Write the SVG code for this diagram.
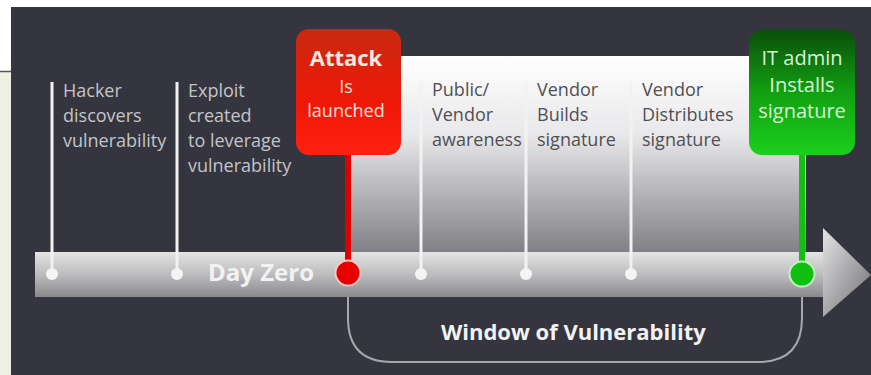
<svg xmlns="http://www.w3.org/2000/svg" width="871" height="375" viewBox="0 0 871 375">
  <defs>
    <linearGradient id="panelGrad" x1="0" y1="0" x2="0" y2="1">
      <stop offset="0" stop-color="#ffffff"/>
      <stop offset="0.4" stop-color="#e8e8ea"/>
      <stop offset="1" stop-color="#7e7e84"/>
    </linearGradient>
    <linearGradient id="barGrad" x1="0" y1="0" x2="0" y2="1">
      <stop offset="0" stop-color="#e4e4e4"/>
      <stop offset="0.5" stop-color="#bcbcbe"/>
      <stop offset="1" stop-color="#8a8a8e"/>
    </linearGradient>
    <linearGradient id="arrowGrad" x1="0" y1="0" x2="1" y2="1">
      <stop offset="0" stop-color="#e4e4e4"/>
      <stop offset="1" stop-color="#6e6e74"/>
    </linearGradient>
    <linearGradient id="redGrad" x1="0" y1="0" x2="0" y2="1">
      <stop offset="0" stop-color="#c82a10"/>
      <stop offset="0.6" stop-color="#f01808"/>
      <stop offset="1" stop-color="#ff2010"/>
    </linearGradient>
    <linearGradient id="greenGrad" x1="0" y1="0" x2="0" y2="1">
      <stop offset="0" stop-color="#0b4f0b"/>
      <stop offset="0.5" stop-color="#12a012"/>
      <stop offset="1" stop-color="#1ccf1c"/>
    </linearGradient>
    <style>
      .lbl { font-family: "Open Sans", "Noto Sans", sans-serif; font-size: 18px; }
      .dark { fill: #c4c4c8; }
      .light { fill: #505054; }
      .tick { stroke: #f2f2f2; stroke-width: 3; }
      .dot { fill: #f4f4f4; }
      .big { font-family: "Open Sans", "Noto Sans", sans-serif; font-weight: bold; }
    </style>
  </defs>

  <!-- background -->
  <rect x="0" y="0" width="871" height="375" fill="#ffffff"/>
  <rect x="0" y="72" width="12" height="303" fill="#eef1e2"/>
  <line x1="0" y1="71.5" x2="12" y2="71.5" stroke="#555" stroke-width="1.5"/>
  <rect x="11" y="7" width="860" height="368" fill="#35353f"/>

  <!-- window panel -->
  <rect x="350" y="56" width="456" height="198" fill="url(#panelGrad)"/>

  <!-- timeline bar -->
  <g id="timeline">
    <rect x="35" y="252" width="790" height="45" fill="url(#barGrad)"/>
    <polygon points="823,228 871,275 823,317" fill="url(#arrowGrad)"/>
    <text class="big" x="208" y="281" fill="#f2f2f2" style="font-size:24px">Day Zero</text>
  </g>

  <g id="connectors">
    <line class="tick" x1="52" y1="82" x2="52" y2="274"/>
    <line class="tick" x1="177" y1="82" x2="177" y2="274"/>
    <line class="tick" x1="421" y1="82" x2="421" y2="274"/>
    <line class="tick" x1="526" y1="82" x2="526" y2="274"/>
    <line class="tick" x1="631" y1="82" x2="631" y2="274"/>
    <line x1="348" y1="150" x2="348" y2="274" stroke="#e00000" stroke-width="6"/>
    <line x1="802" y1="150" x2="802" y2="274" stroke="#12c012" stroke-width="6"/>
    <path d="M348,297 L348,318 Q348,362 392,362 L758,362 Q802,362 802,318 L802,297" fill="none" stroke="#a8a8ac" stroke-width="2"/>
  </g>

  <g id="hacker">
    <circle class="dot" cx="52" cy="274" r="6"/>
    <text class="lbl dark" x="63"><tspan x="63" y="97">Hacker</tspan><tspan x="63" y="122">discovers</tspan><tspan x="63" y="147">vulnerability</tspan></text>
  </g>

  <g id="exploit">
    <circle class="dot" cx="177" cy="274" r="6"/>
    <text class="lbl dark" x="188"><tspan x="188" y="97">Exploit</tspan><tspan x="188" y="122">created</tspan><tspan x="188" y="147">to leverage</tspan><tspan x="188" y="172">vulnerability</tspan></text>
  </g>

  <g id="attack">
    <rect x="296" y="29" width="105" height="126" rx="13" fill="url(#redGrad)"/>
    <text class="big" x="346" y="66" text-anchor="middle" fill="#fbe8e0" style="font-size:22px">Attack</text>
    <text class="lbl" x="346" text-anchor="middle" fill="#fbe0d8"><tspan x="346" y="93">Is</tspan><tspan x="346" y="117">launched</tspan></text>
    <circle cx="348" cy="273" r="12.5" fill="#e80000" stroke="#f7c8c0" stroke-width="2"/>
  </g>

  <g id="awareness">
    <circle class="dot" cx="421" cy="274" r="6"/>
    <text class="lbl light" x="432"><tspan x="432" y="96">Public/</tspan><tspan x="432" y="121">Vendor</tspan><tspan x="432" y="146">awareness</tspan></text>
  </g>

  <g id="builds">
    <circle class="dot" cx="526" cy="274" r="6"/>
    <text class="lbl light" x="537"><tspan x="537" y="96">Vendor</tspan><tspan x="537" y="121">Builds</tspan><tspan x="537" y="146">signature</tspan></text>
  </g>

  <g id="distributes">
    <circle class="dot" cx="631" cy="274" r="6"/>
    <text class="lbl light" x="642"><tspan x="642" y="96">Vendor</tspan><tspan x="642" y="121">Distributes</tspan><tspan x="642" y="146">signature</tspan></text>
  </g>

  <g id="install">
    <rect x="749" y="30" width="106" height="125" rx="13" fill="url(#greenGrad)"/>
    <text class="lbl" text-anchor="middle" fill="#d8f4d8" style="font-size:20px"><tspan x="802" y="65">IT admin</tspan><tspan x="802" y="92">Installs</tspan><tspan x="802" y="118">signature</tspan></text>
    <circle cx="802" cy="274" r="12.5" fill="#10c010" stroke="#c8f0c8" stroke-width="2"/>
  </g>

  <g id="window">
    <text class="big" x="441" y="340" fill="#f2f2f2" style="font-size:22px">Window of Vulnerability</text>
  </g>
</svg>
